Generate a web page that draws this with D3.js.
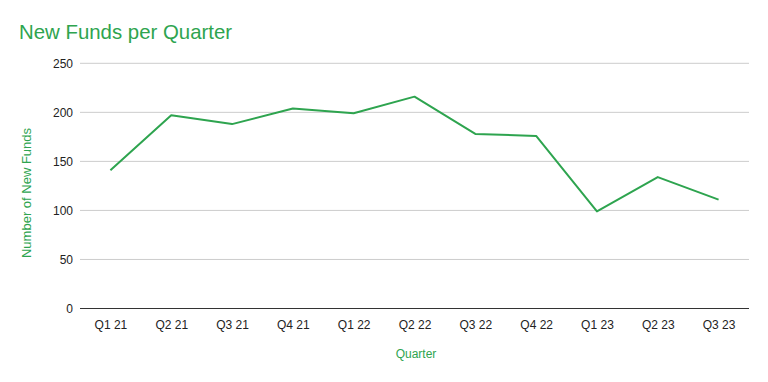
<!DOCTYPE html>
<html>
<head>
<meta charset="utf-8">
<script src="https://cdn.jsdelivr.net/npm/d3@7"></script>
<style>
  body { margin: 0; background: #fff; }
  text { font-family: Arial, "Liberation Sans", sans-serif; }
</style>
</head>
<body>
<script>
// quarters on the x axis
const quarters = ['Q1 21', 'Q2 21', 'Q3 21', 'Q4 21', 'Q1 22', 'Q2 22', 'Q3 22', 'Q4 22', 'Q1 23', 'Q2 23', 'Q3 23'];
// number of new funds per quarter
const newFunds = [141, 197, 188, 204, 199, 216, 178, 176, 99, 134, 111];
const yTicks = [0, 50, 100, 150, 200, 250];

const width = 768, height = 382;
const margin = { left: 80, right: 19, top: 63.3, bottom: 73.5 };
const green = '#2ea44f';

const svg = d3.select('body').append('svg')
  .attr('width', width)
  .attr('height', height);

// title
svg.append('text')
  .attr('x', 19)
  .attr('y', 39)
  .attr('fill', green)
  .style('font-size', '20.4px')
  .text('New Funds per Quarter');

const xScale = d3.scalePoint()
  .domain(quarters)
  .range([margin.left, width - margin.right])
  .padding(0.5);

const yScale = d3.scaleLinear()
  .domain([0, 250])
  .range([height - margin.bottom, margin.top]);

// gridlines
svg.append('g')
  .selectAll('line')
  .data(yTicks.filter(d => d > 0))
  .enter()
  .append('line')
  .attr('x1', margin.left)
  .attr('x2', width - margin.right)
  .attr('y1', d => yScale(d))
  .attr('y2', d => yScale(d))
  .attr('stroke', '#cccccc')
  .attr('stroke-width', 1);

// y axis labels
const yAxis = svg.append('g')
  .attr('transform', `translate(${margin.left},0)`)
  .call(d3.axisLeft(yScale).tickValues(yTicks).tickSize(0).tickPadding(7));
yAxis.select('.domain').remove();
yAxis.selectAll('text').attr('fill', '#222').style('font-size', '12px');

// x axis
const xAxis = svg.append('g')
  .attr('transform', `translate(0,${yScale(0)})`)
  .call(d3.axisBottom(xScale).tickSize(0).tickPadding(12));
xAxis.select('.domain')
  .attr('d', `M${margin.left},0H${width - margin.right}`)
  .attr('stroke', '#333')
  .attr('stroke-width', 1);
xAxis.selectAll('text').attr('fill', '#222').style('font-size', '12px');

// line
const line = d3.line()
  .x((d, i) => xScale(quarters[i]))
  .y(d => yScale(d));

svg.append('path')
  .datum(newFunds)
  .attr('d', line)
  .attr('fill', 'none')
  .attr('stroke', green)
  .attr('stroke-width', 2)
  .attr('stroke-linejoin', 'round');

// x axis title
svg.append('text')
  .attr('text-anchor', 'middle')
  .attr('x', 416)
  .attr('y', 358)
  .attr('fill', green)
  .style('font-size', '12px')
  .text('Quarter');

// y axis title
svg.append('text')
  .attr('text-anchor', 'middle')
  .attr('transform', 'translate(31,193) rotate(-90)')
  .attr('fill', green)
  .style('font-size', '13px')
  .text('Number of New Funds');
</script>
</body>
</html>
